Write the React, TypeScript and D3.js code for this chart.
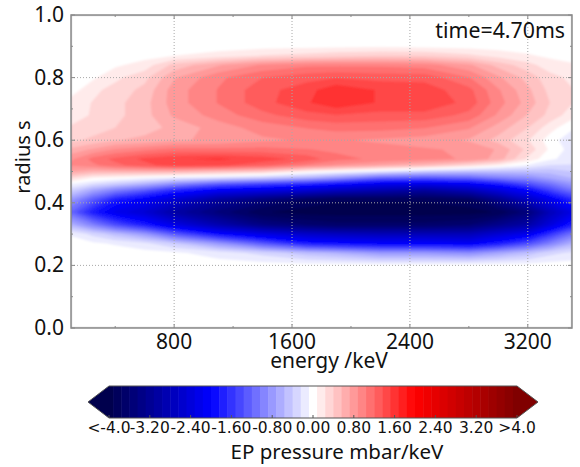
import React, { useEffect, useRef } from 'react';
import * as d3 from 'd3';

const energies = [100, 250, 400, 600, 800, 1100, 1400, 1700, 1900, 2200, 2500, 2800, 3000, 3200, 3350, 3500];
const radii = [0, 0.2, 0.24, 0.27, 0.3, 0.33, 0.37, 0.41, 0.44, 0.46, 0.48, 0.5, 0.52, 0.54, 0.57, 0.6, 0.64, 0.68, 0.72, 0.76, 0.8, 0.84, 0.87, 0.9, 1.0];

// one profile per energy, radius going up
const pressure = [
  [0, 0, 0, 0, -0.1, -0.6, -1.2, -0.8, -0.35, -0.08, 0.3, 0.7, 0.9, 0.85, 0.6, 0.35, 0.25, 0.2, 0.15, 0, 0, 0, 0, 0, 0],
  [0, 0, 0, -0.05, -0.3, -1, -1.8, -1.3, -0.7, -0.25, 0.1, 0.6, 1, 1.1, 0.75, 0.45, 0.3, 0.25, 0.25, 0.2, 0.05, 0, 0, 0, 0],
  [0, 0, 0, -0.1, -0.5, -1.4, -2.2, -1.8, -1, -0.4, 0.05, 0.6, 1.15, 1.25, 0.9, 0.55, 0.4, 0.35, 0.35, 0.3, 0.2, 0.05, 0, 0, 0],
  [0, 0, -0.02, -0.2, -0.8, -1.8, -2.5, -2.1, -1.3, -0.6, -0.05, 0.6, 1.3, 1.4, 1, 0.6, 0.5, 0.5, 0.5, 0.45, 0.35, 0.15, 0.02, 0, 0],
  [0, 0, -0.05, -0.4, -1.3, -2.3, -3, -2.5, -1.7, -0.9, -0.15, 0.6, 1.45, 1.5, 1.1, 0.7, 0.6, 0.75, 0.8, 0.8, 0.7, 0.45, 0.08, 0, 0],
  [0, 0, -0.15, -0.8, -1.9, -2.9, -3.5, -3.1, -2.1, -1.3, -0.25, 0.5, 1.4, 1.55, 1.1, 0.75, 0.8, 0.95, 1.05, 1.05, 1, 0.7, 0.15, 0, 0],
  [0, 0, -0.3, -1.3, -2.3, -3.4, -3.9, -3.5, -2.3, -1.5, -0.4, 0.4, 1.25, 1.45, 1.1, 0.85, 0.95, 1.15, 1.3, 1.3, 1.2, 0.9, 0.25, 0.02, 0],
  [0, 0, -0.5, -1.8, -2.6, -3.6, -4, -3.8, -2.5, -1.7, -0.6, 0.1, 1, 1.3, 1.05, 0.9, 1.05, 1.3, 1.5, 1.45, 1.3, 1, 0.3, 0.03, 0],
  [0, 0, -0.6, -1.9, -2.7, -3.7, -4, -3.9, -2.7, -1.9, -0.8, -0.02, 0.85, 1.1, 1, 0.9, 1.1, 1.35, 1.65, 1.65, 1.35, 1, 0.35, 0.04, 0],
  [0, 0, -0.8, -2, -2.8, -3.7, -4, -3.9, -2.9, -2.2, -1.2, -0.2, 0.7, 1, 0.95, 0.85, 1.1, 1.3, 1.5, 1.5, 1.3, 1, 0.4, 0.05, 0],
  [0, 0, -0.8, -2, -2.8, -3.7, -4, -3.9, -3.1, -2.3, -1.3, -0.4, 0.55, 0.95, 0.9, 0.8, 1.05, 1.3, 1.5, 1.45, 1.3, 0.95, 0.38, 0.04, 0],
  [0, 0, -0.9, -2.1, -2.8, -3.6, -4, -3.8, -2.8, -2.1, -1.2, -0.5, 0.3, 0.85, 0.85, 0.7, 0.9, 1.15, 1.3, 1.25, 1.05, 0.75, 0.28, 0.02, 0],
  [0, 0, -0.7, -1.8, -2.5, -3.3, -3.9, -3.3, -2.4, -1.8, -1, -0.5, 0.1, 0.65, 0.7, 0.5, 0.65, 0.85, 0.95, 0.9, 0.75, 0.5, 0.18, 0.01, 0],
  [0, 0, -0.5, -1.4, -2.2, -3, -3.5, -2.7, -2, -1.4, -0.9, -0.5, -0.1, 0.2, 0.35, 0.25, 0.4, 0.55, 0.65, 0.6, 0.5, 0.3, 0.1, 0, 0],
  [0, 0, -0.3, -1, -1.6, -2.4, -2.8, -2.2, -1.5, -1.1, -0.7, -0.5, -0.25, -0.05, 0.05, 0, 0.15, 0.35, 0.4, 0.35, 0.3, 0.15, 0.05, 0, 0],
  [0, 0, -0.2, -0.6, -1.1, -1.8, -2.3, -1.7, -1.1, -0.8, -0.55, -0.4, -0.25, -0.15, -0.15, -0.2, -0.05, 0.15, 0.25, 0.25, 0.2, 0.1, 0.02, 0, 0],
];

const xTicks = [800, 1600, 2400, 3200];
const xMinor = [400, 1200, 2000, 2800];
const yTicks = [0, 0.2, 0.4, 0.6, 0.8, 1.0];
const yMinor = [0.1, 0.3, 0.5, 0.7, 0.9];
const barTicks = [-4, -3.2, -2.4, -1.6, -0.8, 0, 0.8, 1.6, 2.4, 3.2, 4];
const barLabels = ['<-4.0', '-3.20', '-2.40', '-1.60', '-0.80', '0.00', '0.80', '1.60', '2.40', '3.20', '>4.0'];

const width = 580;
const height = 467;
const FONT = '"Noto Sans", sans-serif';
const BAR_FONT = '"DejaVu Sans", sans-serif';
const AXIS = '#8a8a8a';

export default function App() {
  const svgRef = useRef<SVGSVGElement>(null);

  useEffect(() => {
    const svg = d3.select(svgRef.current);
    svg.selectAll('*').remove();

    const plot = { left: 71, right: 572, top: 15, bottom: 328 };
    const x = d3.scaleLinear().domain([100, 3500]).range([plot.left, plot.right]);
    const y = d3.scaleLinear().domain([0, 1]).range([plot.bottom, plot.top]);

    const color = d3.scaleLinear<string>()
      .domain([-4, -2, 0, 2, 4])
      .range(['#00004d', '#0000ff', '#ffffff', '#ff0000', '#800000'])
      .clamp(true);

    // levels are 0.16 wide, the middle one sits round zero
    const step = 0.16;
    const levels = d3.range(-25, 26).map(i => i * step);

    // d3.contours wants a flat array
    const nx = energies.length;
    const ny = radii.length;
    const values: number[] = [];
    radii.forEach((_, j) => energies.forEach((_, i) => values.push(pressure[i][j])));

    // grid is not even, so go through index -> data -> pixel
    const gx = d3.scaleLinear().domain(energies.map((_, i) => i + 0.5)).range(energies.map(e => x(e))).clamp(true);
    const gy = d3.scaleLinear().domain(radii.map((_, j) => j + 0.5)).range(radii.map(r => y(r))).clamp(true);
    const path = d3.geoPath(d3.geoTransform({
      point(a, b) { this.stream.point(gx(a), gy(b)); },
    }));

    const defs = svg.append('defs');
    defs.append('clipPath').attr('id', 'plot-clip').append('rect')
      .attr('x', plot.left).attr('y', plot.top)
      .attr('width', plot.right - plot.left).attr('height', plot.bottom - plot.top);
    defs.append('filter').attr('id', 'soft').attr('x', '-5%').attr('y', '-5%').attr('width', '110%').attr('height', '110%')
      .append('feGaussianBlur').attr('stdDeviation', 0.9);

    const contours = d3.contours().size([nx, ny]).smooth(true)
      .thresholds(levels.map(l => l - step / 2).slice(1))(values);

    const field = svg.append('g').attr('clip-path', 'url(#plot-clip)').append('g').attr('filter', 'url(#soft)');
    field.append('rect')
      .attr('x', plot.left - 5).attr('y', plot.top - 5)
      .attr('width', plot.right - plot.left + 10).attr('height', plot.bottom - plot.top + 10)
      .attr('fill', color(levels[0]));
    field.selectAll('path')
      .data(contours)
      .enter().append('path')
      .attr('d', d => path(d))
      .attr('fill', d => color(d.value + step / 2));

    // dotted grid
    const grid = svg.append('g').attr('stroke', '#a8a8a8').attr('stroke-width', 1).attr('stroke-dasharray', '1,2');
    xTicks.forEach(t => {
      grid.append('line').attr('x1', x(t)).attr('x2', x(t)).attr('y1', plot.top).attr('y2', plot.bottom);
    });
    yTicks.slice(1, -1).forEach(t => {
      grid.append('line').attr('x1', plot.left).attr('x2', plot.right).attr('y1', y(t)).attr('y2', y(t));
    });

    // frame
    svg.append('rect')
      .attr('x', plot.left).attr('y', plot.top)
      .attr('width', plot.right - plot.left).attr('height', plot.bottom - plot.top)
      .attr('fill', 'none').attr('stroke', AXIS).attr('stroke-width', 1.5);

    const ticks = svg.append('g').attr('stroke', AXIS).attr('stroke-width', 1);
    [...xTicks, ...xMinor].forEach(t => {
      const len = xTicks.includes(t) ? 4 : 2;
      ticks.append('line').attr('x1', x(t)).attr('x2', x(t)).attr('y1', plot.bottom).attr('y2', plot.bottom - len);
      ticks.append('line').attr('x1', x(t)).attr('x2', x(t)).attr('y1', plot.top).attr('y2', plot.top + len);
    });
    [...yTicks, ...yMinor].forEach(t => {
      const len = yTicks.includes(t) ? 4 : 2;
      ticks.append('line').attr('x1', plot.left).attr('x2', plot.left + len).attr('y1', y(t)).attr('y2', y(t));
      ticks.append('line').attr('x1', plot.right).attr('x2', plot.right - len).attr('y1', y(t)).attr('y2', y(t));
    });

    const label = svg.append('g').attr('font-family', FONT).attr('fill', '#111');
    xTicks.forEach(t => {
      label.append('text').attr('x', x(t)).attr('y', 349).attr('text-anchor', 'middle').attr('font-size', 21).text(t);
    });
    yTicks.forEach(t => {
      label.append('text').attr('x', 64).attr('y', y(t) + 7).attr('text-anchor', 'end').attr('font-size', 21).text(t.toFixed(1));
    });
    label.append('text').attr('x', 329).attr('y', 368).attr('text-anchor', 'middle').attr('font-size', 21).text('energy /keV');
    label.append('text').attr('transform', `translate(30,157) rotate(-90)`).attr('text-anchor', 'middle').attr('font-size', 20).text('radius s');
    label.append('text').attr('x', 565).attr('y', 38).attr('text-anchor', 'end').attr('font-size', 21.3).text('time=4.70ms');

    // colorbar
    const bar = { top: 386, bottom: 418 };
    const cx = d3.scaleLinear().domain([-4, 4]).range([109, 517]);
    const barG = svg.append('g');
    barG.append('path')
      .attr('d', d3.line()([[cx(-4), bar.top], [88, (bar.top + bar.bottom) / 2], [cx(-4), bar.bottom]]) + 'Z')
      .attr('fill', color(-4));
    barG.append('path')
      .attr('d', d3.line()([[cx(4), bar.top], [538, (bar.top + bar.bottom) / 2], [cx(4), bar.bottom]]) + 'Z')
      .attr('fill', color(4));
    levels.forEach(l => {
      const a = Math.max(l - step / 2, -4);
      const b = Math.min(l + step / 2, 4);
      barG.append('rect')
        .attr('x', cx(a)).attr('y', bar.top)
        .attr('width', cx(b) - cx(a) + 0.5).attr('height', bar.bottom - bar.top)
        .attr('fill', color(l));
    });
    barG.append('path')
      .attr('d', d3.line()([[cx(-4), bar.top], [88, (bar.top + bar.bottom) / 2], [cx(-4), bar.bottom], [cx(4), bar.bottom], [538, (bar.top + bar.bottom) / 2], [cx(4), bar.top]]) + 'Z')
      .attr('fill', 'none').attr('stroke', '#555').attr('stroke-width', 1);
    barTicks.forEach((t, i) => {
      barG.append('line').attr('x1', cx(t)).attr('x2', cx(t)).attr('y1', bar.bottom).attr('y2', bar.bottom - 3).attr('stroke', '#555');
      label.append('text').attr('x', cx(t)).attr('y', 433).attr('text-anchor', 'middle').attr('font-family', BAR_FONT).attr('font-size', 15.5).text(barLabels[i]);
    });
    label.append('text').attr('x', 337).attr('y', 459).attr('text-anchor', 'middle').attr('font-size', 20.5).text('EP pressure mbar/keV');
  }, []);

  return <svg ref={svgRef} width={width} height={height} style={{ position: 'absolute', left: 0, top: 0, background: '#fff' }} />;
}
